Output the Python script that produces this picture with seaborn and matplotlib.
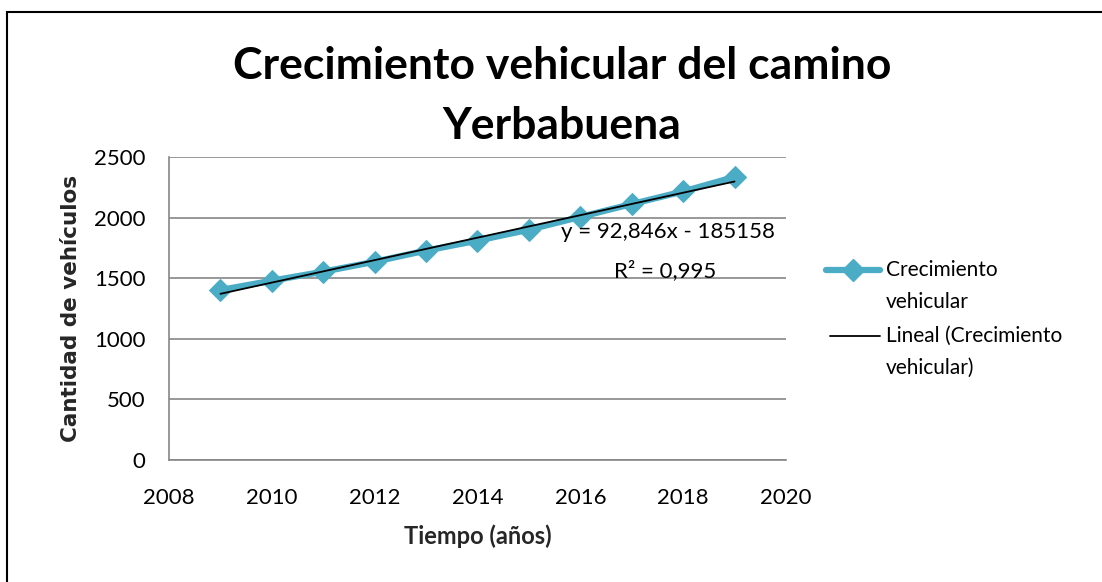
import numpy as np
import pandas as pd
import matplotlib
matplotlib.use("Agg")
import matplotlib.pyplot as plt
import seaborn as sns
from matplotlib.lines import Line2D
from matplotlib.patches import Rectangle

# datos
years = [2009, 2010, 2011, 2012, 2013, 2014, 2015, 2016, 2017, 2018, 2019]
vehicles = [1403, 1480, 1554, 1636, 1728, 1810, 1900, 2006, 2112, 2216, 2336]
title = "Crecimiento vehicular del camino\nYerbabuena"
eq_text = "y = 92,846x - 185158"
r2_text = "R² = 0,995"
series_label = "Crecimiento\nvehicular"
trend_label = "Lineal (Crecimiento\nvehicular)"

BLUE = "#4BACC6"
GRID = "#868686"

sns.set_theme(style="white")
plt.rcParams["font.family"] = ["Lato", "DejaVu Sans"]
plt.rcParams["text.color"] = "black"

df = pd.DataFrame({"year": years, "vehicles": vehicles})

W, H = 1102, 582
fig = plt.figure(figsize=(W / 100, H / 100), dpi=100)
ax = fig.add_axes([0.1534, 0.2096, 0.5598, 0.5206])

sns.lineplot(data=df, x="year", y="vehicles", ax=ax, color=BLUE, linewidth=4.5,
             marker="D", markersize=11, markeredgecolor=BLUE, zorder=3)

# línea de tendencia (ajuste lineal)
slope, intercept = np.polyfit(df["year"], df["vehicles"], 1)
xs = np.array([years[0], years[-1]])
ax.plot(xs, slope * xs + intercept, color="black", linewidth=1.3, zorder=4)

ax.set_xlim(2008, 2020)
ax.set_ylim(0, 2500)
ax.set_xticks(range(2008, 2021, 2))
ax.set_yticks(range(0, 2501, 500))
ax.yaxis.grid(True, color=GRID, linewidth=1.2)
ax.xaxis.grid(False)
for s in ["top", "right"]:
    ax.spines[s].set_visible(False)
for s in ["left", "bottom"]:
    ax.spines[s].set_color(GRID)
    ax.spines[s].set_linewidth(1.2)
ax.tick_params(axis="both", which="major", direction="out", length=5, width=1.2,
               color=GRID, labelsize=16, labelcolor="black")
ax.tick_params(axis="x", pad=15)
ax.tick_params(axis="y", pad=12)

ax.set_xlabel("Tiempo (años)", fontsize=17, fontweight="bold", labelpad=12)
ax.set_ylabel("Cantidad de vehículos", fontsize=15.5, fontweight="bold", labelpad=9,
              family="DejaVu Sans")

ax.text(2017.7, 1885, eq_text, fontsize=16, ha="center", va="center")
ax.text(2017.65, 1560, r2_text, fontsize=16, ha="center", va="center")

fig.text(0.51, 0.835, title, fontsize=32, fontweight="bold", ha="center", va="center",
         linespacing=1.6, color="black")

# leyenda estilo Excel: el símbolo alineado con la primera línea del texto
def fx(px):
    return px / W

def fy(px):
    return 1 - px / H

entries = [
    (Line2D([fx(826), fx(880)], [fy(270), fy(270)], color=BLUE, linewidth=4.5,
            transform=fig.transFigure), series_label, 270),
    (Line2D([fx(830), fx(880)], [fy(336), fy(336)], color="black", linewidth=1.3,
            transform=fig.transFigure), trend_label, 336),
]
for line, label, ypx in entries:
    fig.add_artist(line)
    fig.text(fx(886), fy(ypx - 10), label, fontsize=15, ha="left", va="top",
             linespacing=1.75)
fig.add_artist(Line2D([fx(853)], [fy(270)], marker="D", markersize=11, color=BLUE,
                      transform=fig.transFigure))

# borde del área del gráfico
fig.patches.append(Rectangle((7 / W, -0.01), 1.1, 1 - 12 / H + 0.01, transform=fig.transFigure,
                             fill=False, edgecolor="black", linewidth=1.5))

fig.savefig("out.png", dpi=100)
